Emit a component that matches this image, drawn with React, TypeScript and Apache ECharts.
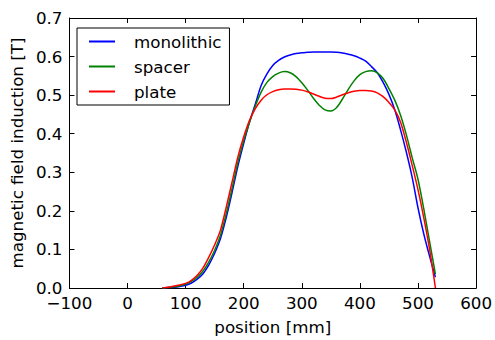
import React, { useEffect, useRef } from "react";
import * as echarts from "echarts";

const positions = [60, 70, 80, 90, 100, 110, 120, 130, 140, 150, 160, 170, 180, 190, 200, 210, 220, 230, 240, 250, 260, 270, 280, 290, 300, 310, 320, 330, 340, 350, 360, 370, 380, 390, 400, 410, 420, 430, 440, 450, 460, 470, 480, 490, 500, 510, 520, 530];

const monolithic = [0, 0.001, 0.002, 0.004, 0.007, 0.013, 0.023, 0.037, 0.06, 0.09, 0.128, 0.183, 0.248, 0.316, 0.375, 0.43, 0.477, 0.525, 0.555, 0.577, 0.59, 0.599, 0.604, 0.608, 0.61, 0.611, 0.612, 0.612, 0.612, 0.612, 0.611, 0.609, 0.606, 0.602, 0.596, 0.588, 0.574, 0.558, 0.533, 0.502, 0.462, 0.41, 0.352, 0.287, 0.208, 0.14, 0.082, 0.028];

const spacer = [0, 0.001, 0.003, 0.006, 0.01, 0.017, 0.028, 0.044, 0.068, 0.098, 0.137, 0.193, 0.258, 0.326, 0.382, 0.43, 0.472, 0.508, 0.533, 0.548, 0.557, 0.561, 0.558, 0.548, 0.532, 0.513, 0.492, 0.474, 0.462, 0.459, 0.468, 0.49, 0.515, 0.537, 0.553, 0.561, 0.563, 0.558, 0.543, 0.517, 0.487, 0.448, 0.397, 0.338, 0.282, 0.205, 0.12, 0.036];

const plate = [0, 0.002, 0.005, 0.008, 0.012, 0.02, 0.033, 0.052, 0.08, 0.112, 0.15, 0.21, 0.275, 0.34, 0.392, 0.435, 0.465, 0.487, 0.501, 0.509, 0.514, 0.516, 0.516, 0.515, 0.513, 0.509, 0.503, 0.497, 0.492, 0.491, 0.495, 0.501, 0.506, 0.51, 0.512, 0.512, 0.511, 0.506, 0.496, 0.481, 0.462, 0.43, 0.378, 0.318, 0.255, 0.182, 0.1, 0];

const seriesNames = ["monolithic", "spacer", "plate"];
const seriesValues = [monolithic, spacer, plate];
const seriesColors = ["#0000ff", "#008000", "#ff0000"];

const xTitle = "position [mm]";
const yTitle = "magnetic field induction [T]";

const FONT = "DejaVu Sans";
const FS = 16.7;

export default function App() {
  const ref = useRef<HTMLDivElement>(null);
  useEffect(() => {
    if (!ref.current) return;
    const chart = echarts.init(ref.current, null, { renderer: "svg" });
    const xCommon = {
      type: "value",
      min: -100,
      max: 600,
      interval: 100,
      splitLine: { show: false },
      axisLine: { show: true, onZero: false, lineStyle: { color: "#000", width: 1 } },
      axisTick: { show: true, inside: true, length: 5, lineStyle: { color: "#000", width: 1 } },
    };
    const yCommon = {
      type: "value",
      min: 0,
      max: 0.7,
      interval: 0.1,
      splitLine: { show: false },
      axisLine: { show: true, onZero: false, lineStyle: { color: "#000", width: 1 } },
      axisTick: { show: true, inside: true, length: 5, lineStyle: { color: "#000", width: 1 } },
    };
    chart.setOption({
      animation: false,
      backgroundColor: "#fff",
      textStyle: { fontFamily: FONT },
      grid: { left: 68, right: 17, top: 18, bottom: 50, containLabel: false },
      legend: {
        data: seriesNames,
        orient: "vertical",
        left: 77,
        top: 28,
        backgroundColor: "#fff",
        borderColor: "#000",
        borderWidth: 1,
        borderRadius: 0,
        padding: [5, 8, 5, 12],
        itemWidth: 26,
        itemHeight: 2,
        itemGap: 8,
        icon: "rect",
        textStyle: { fontFamily: FONT, fontSize: FS, color: "#000", padding: [0, 0, 0, 14] },
      },
      xAxis: [
        {
          ...xCommon,
          position: "bottom",
          name: xTitle,
          nameLocation: "middle",
          nameGap: 30,
          nameTextStyle: { fontFamily: FONT, fontSize: FS, color: "#000" },
          axisLabel: {
            fontFamily: FONT,
            fontSize: FS,
            color: "#000",
            margin: 6,
            formatter: (v: number) => String(v).replace("-", "\u2212"),
          },
        },
        { ...xCommon, position: "top", axisLabel: { show: false } },
      ],
      yAxis: [
        {
          ...yCommon,
          position: "left",
          name: yTitle,
          nameLocation: "middle",
          nameGap: 42,
          nameTextStyle: { fontFamily: FONT, fontSize: FS, color: "#000" },
          axisLabel: {
            fontFamily: FONT,
            fontSize: FS,
            color: "#000",
            margin: 7,
            formatter: (v: number) => v.toFixed(1),
          },
        },
        { ...yCommon, position: "right", axisLabel: { show: false } },
      ],
      series: seriesNames.map((name, i) => ({
        name,
        type: "line",
        xAxisIndex: 0,
        yAxisIndex: 0,
        showSymbol: false,
        symbol: "none",
        smooth: 0.3,
        lineStyle: { color: seriesColors[i], width: 1.5 },
        itemStyle: { color: seriesColors[i] },
        data: positions.map((x, j) => [x, seriesValues[i][j]]),
      })),
    });
    return () => chart.dispose();
  }, []);
  return (
    <div
      ref={ref}
      style={{ position: "fixed", left: 0, top: 0, width: 495, height: 340, background: "#fff" }}
    />
  );
}
